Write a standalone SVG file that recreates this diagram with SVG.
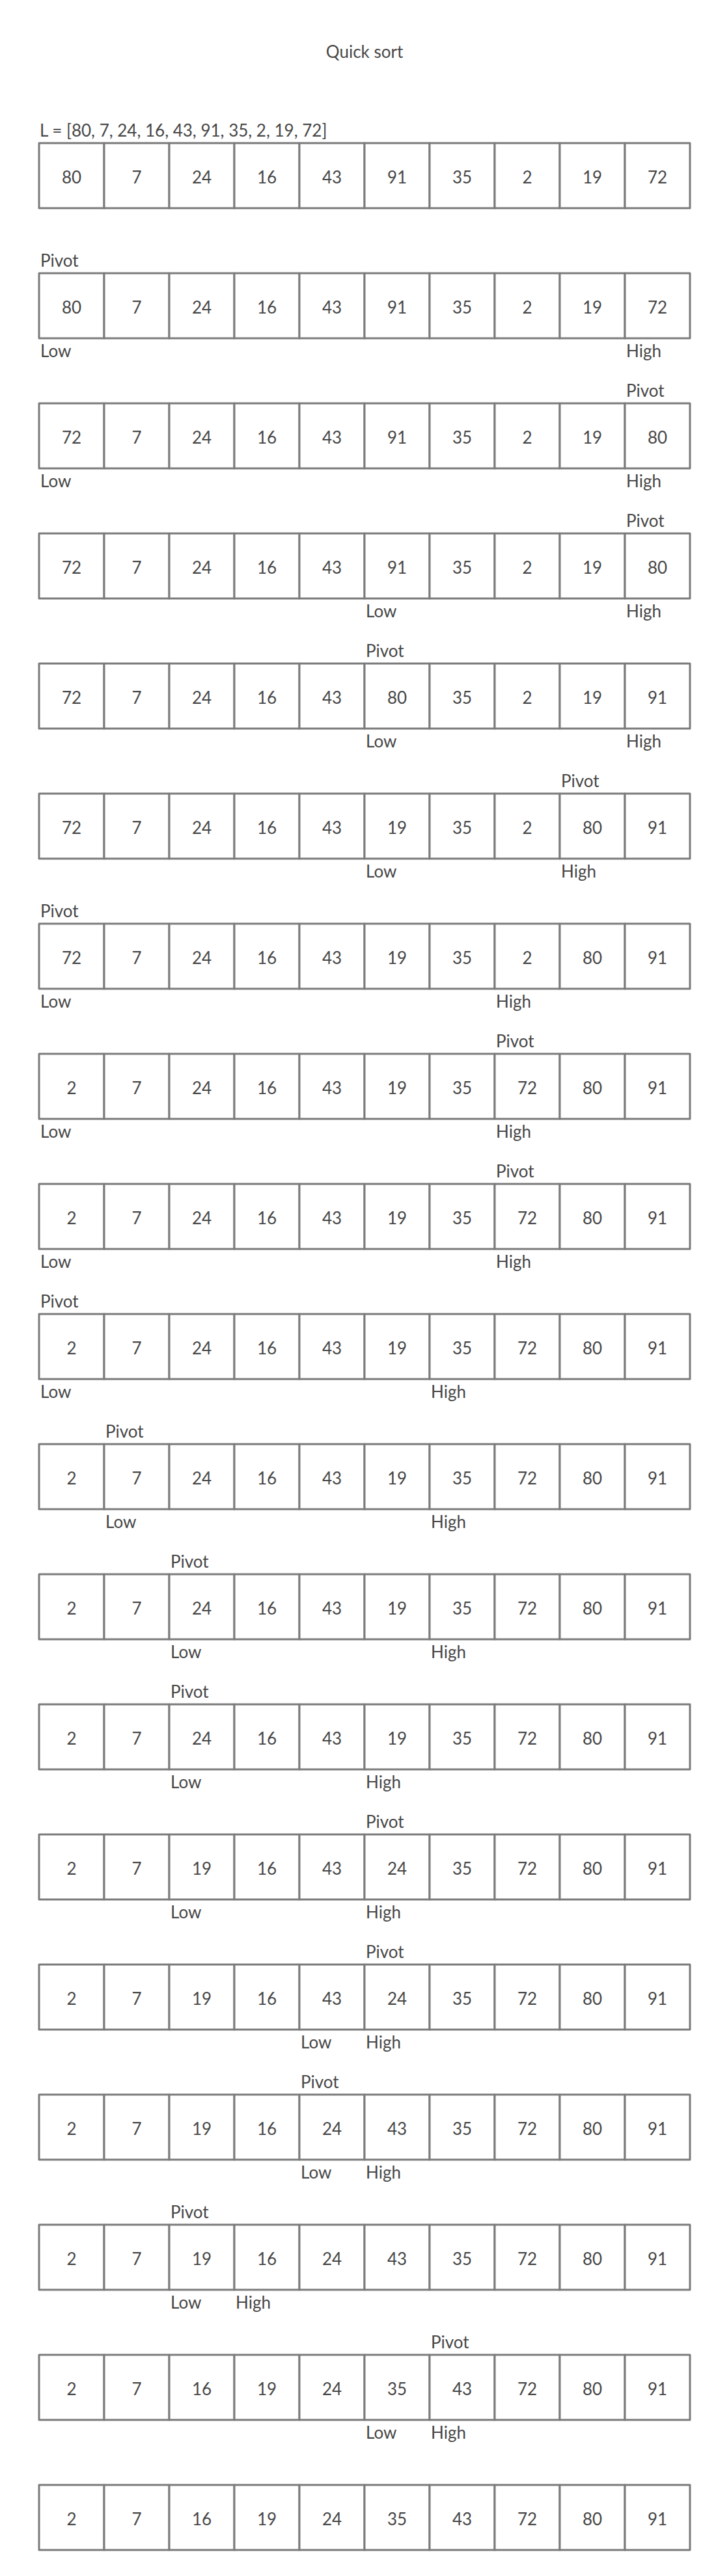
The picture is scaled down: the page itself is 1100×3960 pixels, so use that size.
<svg xmlns="http://www.w3.org/2000/svg" width="1100" height="3960" viewBox="0 0 1100 3960">
<style>
.c{fill:#ffffff;stroke:#7b7b7b;stroke-width:3;stroke-linejoin:round}
.v{font-family:Lato,"Liberation Sans",sans-serif;font-size:26px;fill:#474747;text-anchor:middle}
.l{font-family:Lato,"Liberation Sans",sans-serif;font-size:26px;fill:#474747}
</style>
<rect width="1100" height="3960" fill="#ffffff"/>
<text class="v" x="560" y="89">Quick sort</text>
<defs>
<g id="row">
<rect class="c" x="60" y="0" width="100" height="100"/><rect class="c" x="160" y="0" width="100" height="100"/><rect class="c" x="260" y="0" width="100" height="100"/><rect class="c" x="360" y="0" width="100" height="100"/><rect class="c" x="460" y="0" width="100" height="100"/><rect class="c" x="560" y="0" width="100" height="100"/><rect class="c" x="660" y="0" width="100" height="100"/><rect class="c" x="760" y="0" width="100" height="100"/><rect class="c" x="860" y="0" width="100" height="100"/><rect class="c" x="960" y="0" width="100" height="100"/>
</g>
</defs>
<g id="step1" transform="translate(0,220)"><use href="#row"/><text class="l" x="61" y="-10">L = [80, 7, 24, 16, 43, 91, 35, 2, 19, 72]</text><text class="v" x="110" y="62">80</text><text class="v" x="210" y="62">7</text><text class="v" x="310" y="62">24</text><text class="v" x="410" y="62">16</text><text class="v" x="510" y="62">43</text><text class="v" x="610" y="62">91</text><text class="v" x="710" y="62">35</text><text class="v" x="810" y="62">2</text><text class="v" x="910" y="62">19</text><text class="v" x="1010" y="62">72</text></g>
<g id="step2" transform="translate(0,420)"><use href="#row"/><text class="l" x="62" y="-10">Pivot</text><text class="l" x="62" y="129">Low</text><text class="l" x="962" y="129">High</text><text class="v" x="110" y="62">80</text><text class="v" x="210" y="62">7</text><text class="v" x="310" y="62">24</text><text class="v" x="410" y="62">16</text><text class="v" x="510" y="62">43</text><text class="v" x="610" y="62">91</text><text class="v" x="710" y="62">35</text><text class="v" x="810" y="62">2</text><text class="v" x="910" y="62">19</text><text class="v" x="1010" y="62">72</text></g>
<g id="step3" transform="translate(0,620)"><use href="#row"/><text class="l" x="962" y="-10">Pivot</text><text class="l" x="62" y="129">Low</text><text class="l" x="962" y="129">High</text><text class="v" x="110" y="62">72</text><text class="v" x="210" y="62">7</text><text class="v" x="310" y="62">24</text><text class="v" x="410" y="62">16</text><text class="v" x="510" y="62">43</text><text class="v" x="610" y="62">91</text><text class="v" x="710" y="62">35</text><text class="v" x="810" y="62">2</text><text class="v" x="910" y="62">19</text><text class="v" x="1010" y="62">80</text></g>
<g id="step4" transform="translate(0,820)"><use href="#row"/><text class="l" x="962" y="-10">Pivot</text><text class="l" x="562" y="129">Low</text><text class="l" x="962" y="129">High</text><text class="v" x="110" y="62">72</text><text class="v" x="210" y="62">7</text><text class="v" x="310" y="62">24</text><text class="v" x="410" y="62">16</text><text class="v" x="510" y="62">43</text><text class="v" x="610" y="62">91</text><text class="v" x="710" y="62">35</text><text class="v" x="810" y="62">2</text><text class="v" x="910" y="62">19</text><text class="v" x="1010" y="62">80</text></g>
<g id="step5" transform="translate(0,1020)"><use href="#row"/><text class="l" x="562" y="-10">Pivot</text><text class="l" x="562" y="129">Low</text><text class="l" x="962" y="129">High</text><text class="v" x="110" y="62">72</text><text class="v" x="210" y="62">7</text><text class="v" x="310" y="62">24</text><text class="v" x="410" y="62">16</text><text class="v" x="510" y="62">43</text><text class="v" x="610" y="62">80</text><text class="v" x="710" y="62">35</text><text class="v" x="810" y="62">2</text><text class="v" x="910" y="62">19</text><text class="v" x="1010" y="62">91</text></g>
<g id="step6" transform="translate(0,1220)"><use href="#row"/><text class="l" x="862" y="-10">Pivot</text><text class="l" x="562" y="129">Low</text><text class="l" x="862" y="129">High</text><text class="v" x="110" y="62">72</text><text class="v" x="210" y="62">7</text><text class="v" x="310" y="62">24</text><text class="v" x="410" y="62">16</text><text class="v" x="510" y="62">43</text><text class="v" x="610" y="62">19</text><text class="v" x="710" y="62">35</text><text class="v" x="810" y="62">2</text><text class="v" x="910" y="62">80</text><text class="v" x="1010" y="62">91</text></g>
<g id="step7" transform="translate(0,1420)"><use href="#row"/><text class="l" x="62" y="-10">Pivot</text><text class="l" x="62" y="129">Low</text><text class="l" x="762" y="129">High</text><text class="v" x="110" y="62">72</text><text class="v" x="210" y="62">7</text><text class="v" x="310" y="62">24</text><text class="v" x="410" y="62">16</text><text class="v" x="510" y="62">43</text><text class="v" x="610" y="62">19</text><text class="v" x="710" y="62">35</text><text class="v" x="810" y="62">2</text><text class="v" x="910" y="62">80</text><text class="v" x="1010" y="62">91</text></g>
<g id="step8" transform="translate(0,1620)"><use href="#row"/><text class="l" x="762" y="-10">Pivot</text><text class="l" x="62" y="129">Low</text><text class="l" x="762" y="129">High</text><text class="v" x="110" y="62">2</text><text class="v" x="210" y="62">7</text><text class="v" x="310" y="62">24</text><text class="v" x="410" y="62">16</text><text class="v" x="510" y="62">43</text><text class="v" x="610" y="62">19</text><text class="v" x="710" y="62">35</text><text class="v" x="810" y="62">72</text><text class="v" x="910" y="62">80</text><text class="v" x="1010" y="62">91</text></g>
<g id="step9" transform="translate(0,1820)"><use href="#row"/><text class="l" x="762" y="-10">Pivot</text><text class="l" x="62" y="129">Low</text><text class="l" x="762" y="129">High</text><text class="v" x="110" y="62">2</text><text class="v" x="210" y="62">7</text><text class="v" x="310" y="62">24</text><text class="v" x="410" y="62">16</text><text class="v" x="510" y="62">43</text><text class="v" x="610" y="62">19</text><text class="v" x="710" y="62">35</text><text class="v" x="810" y="62">72</text><text class="v" x="910" y="62">80</text><text class="v" x="1010" y="62">91</text></g>
<g id="step10" transform="translate(0,2020)"><use href="#row"/><text class="l" x="62" y="-10">Pivot</text><text class="l" x="62" y="129">Low</text><text class="l" x="662" y="129">High</text><text class="v" x="110" y="62">2</text><text class="v" x="210" y="62">7</text><text class="v" x="310" y="62">24</text><text class="v" x="410" y="62">16</text><text class="v" x="510" y="62">43</text><text class="v" x="610" y="62">19</text><text class="v" x="710" y="62">35</text><text class="v" x="810" y="62">72</text><text class="v" x="910" y="62">80</text><text class="v" x="1010" y="62">91</text></g>
<g id="step11" transform="translate(0,2220)"><use href="#row"/><text class="l" x="162" y="-10">Pivot</text><text class="l" x="162" y="129">Low</text><text class="l" x="662" y="129">High</text><text class="v" x="110" y="62">2</text><text class="v" x="210" y="62">7</text><text class="v" x="310" y="62">24</text><text class="v" x="410" y="62">16</text><text class="v" x="510" y="62">43</text><text class="v" x="610" y="62">19</text><text class="v" x="710" y="62">35</text><text class="v" x="810" y="62">72</text><text class="v" x="910" y="62">80</text><text class="v" x="1010" y="62">91</text></g>
<g id="step12" transform="translate(0,2420)"><use href="#row"/><text class="l" x="262" y="-10">Pivot</text><text class="l" x="262" y="129">Low</text><text class="l" x="662" y="129">High</text><text class="v" x="110" y="62">2</text><text class="v" x="210" y="62">7</text><text class="v" x="310" y="62">24</text><text class="v" x="410" y="62">16</text><text class="v" x="510" y="62">43</text><text class="v" x="610" y="62">19</text><text class="v" x="710" y="62">35</text><text class="v" x="810" y="62">72</text><text class="v" x="910" y="62">80</text><text class="v" x="1010" y="62">91</text></g>
<g id="step13" transform="translate(0,2620)"><use href="#row"/><text class="l" x="262" y="-10">Pivot</text><text class="l" x="262" y="129">Low</text><text class="l" x="562" y="129">High</text><text class="v" x="110" y="62">2</text><text class="v" x="210" y="62">7</text><text class="v" x="310" y="62">24</text><text class="v" x="410" y="62">16</text><text class="v" x="510" y="62">43</text><text class="v" x="610" y="62">19</text><text class="v" x="710" y="62">35</text><text class="v" x="810" y="62">72</text><text class="v" x="910" y="62">80</text><text class="v" x="1010" y="62">91</text></g>
<g id="step14" transform="translate(0,2820)"><use href="#row"/><text class="l" x="562" y="-10">Pivot</text><text class="l" x="262" y="129">Low</text><text class="l" x="562" y="129">High</text><text class="v" x="110" y="62">2</text><text class="v" x="210" y="62">7</text><text class="v" x="310" y="62">19</text><text class="v" x="410" y="62">16</text><text class="v" x="510" y="62">43</text><text class="v" x="610" y="62">24</text><text class="v" x="710" y="62">35</text><text class="v" x="810" y="62">72</text><text class="v" x="910" y="62">80</text><text class="v" x="1010" y="62">91</text></g>
<g id="step15" transform="translate(0,3020)"><use href="#row"/><text class="l" x="562" y="-10">Pivot</text><text class="l" x="462" y="129">Low</text><text class="l" x="562" y="129">High</text><text class="v" x="110" y="62">2</text><text class="v" x="210" y="62">7</text><text class="v" x="310" y="62">19</text><text class="v" x="410" y="62">16</text><text class="v" x="510" y="62">43</text><text class="v" x="610" y="62">24</text><text class="v" x="710" y="62">35</text><text class="v" x="810" y="62">72</text><text class="v" x="910" y="62">80</text><text class="v" x="1010" y="62">91</text></g>
<g id="step16" transform="translate(0,3220)"><use href="#row"/><text class="l" x="462" y="-10">Pivot</text><text class="l" x="462" y="129">Low</text><text class="l" x="562" y="129">High</text><text class="v" x="110" y="62">2</text><text class="v" x="210" y="62">7</text><text class="v" x="310" y="62">19</text><text class="v" x="410" y="62">16</text><text class="v" x="510" y="62">24</text><text class="v" x="610" y="62">43</text><text class="v" x="710" y="62">35</text><text class="v" x="810" y="62">72</text><text class="v" x="910" y="62">80</text><text class="v" x="1010" y="62">91</text></g>
<g id="step17" transform="translate(0,3420)"><use href="#row"/><text class="l" x="262" y="-10">Pivot</text><text class="l" x="262" y="129">Low</text><text class="l" x="362" y="129">High</text><text class="v" x="110" y="62">2</text><text class="v" x="210" y="62">7</text><text class="v" x="310" y="62">19</text><text class="v" x="410" y="62">16</text><text class="v" x="510" y="62">24</text><text class="v" x="610" y="62">43</text><text class="v" x="710" y="62">35</text><text class="v" x="810" y="62">72</text><text class="v" x="910" y="62">80</text><text class="v" x="1010" y="62">91</text></g>
<g id="step18" transform="translate(0,3620)"><use href="#row"/><text class="l" x="662" y="-10">Pivot</text><text class="l" x="562" y="129">Low</text><text class="l" x="662" y="129">High</text><text class="v" x="110" y="62">2</text><text class="v" x="210" y="62">7</text><text class="v" x="310" y="62">16</text><text class="v" x="410" y="62">19</text><text class="v" x="510" y="62">24</text><text class="v" x="610" y="62">35</text><text class="v" x="710" y="62">43</text><text class="v" x="810" y="62">72</text><text class="v" x="910" y="62">80</text><text class="v" x="1010" y="62">91</text></g>
<g id="step19" transform="translate(0,3820)"><use href="#row"/><text class="v" x="110" y="62">2</text><text class="v" x="210" y="62">7</text><text class="v" x="310" y="62">16</text><text class="v" x="410" y="62">19</text><text class="v" x="510" y="62">24</text><text class="v" x="610" y="62">35</text><text class="v" x="710" y="62">43</text><text class="v" x="810" y="62">72</text><text class="v" x="910" y="62">80</text><text class="v" x="1010" y="62">91</text></g>
</svg>
